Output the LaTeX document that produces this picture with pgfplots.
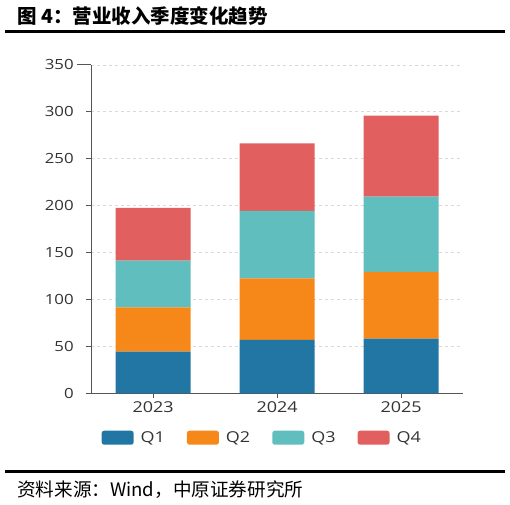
\documentclass[border=0pt]{standalone}
\usepackage{pgfplots}
\pgfplotsset{compat=1.18}
\usepackage{fontspec}
\setmainfont{Open Sans}[FakeStretch=1.2]
\newfontfamily\cjk{Noto Sans CJK SC}
\definecolor{c1}{HTML}{2276A3}
\definecolor{c2}{HTML}{F58818}
\definecolor{c3}{HTML}{60BEBF}
\definecolor{c4}{HTML}{E15F5F}
\definecolor{axgray}{HTML}{555555}
\definecolor{txtgray}{HTML}{333333}
\pgfplotsset{lg/.style={legend image code/.code={\fill[##1,rounded corners=2.5pt] (0pt,-7pt) rectangle (32pt,7pt);}}}
\begin{document}
\begin{tikzpicture}[x=1pt,y=1pt]
\useasboundingbox (0,0) rectangle (510,504);
\node[anchor=west, inner sep=0, font=\cjk\bfseries\fontsize{19.5}{21}\selectfont] at (17,488) {图 4：营业收入季度变化趋势};
\draw[line width=2.5pt, black] (5,472.3) -- (505,472.3);
\draw[line width=2.5pt, black] (5,32.3) -- (505,32.3);
\node[anchor=west, inner sep=0, font=\cjk\fontsize{18.6}{20}\selectfont] at (17,14) {资料来源：Wind，中原证券研究所};
\begin{axis}[
  at={(73.5,117.9)}, anchor=south west,
  scale only axis, width=372pt, height=328.4pt,
  xmin=-0.5, xmax=2.5, ymin=0, ymax=350,
  ybar stacked, bar width=75pt,
  xtick={0,1,2}, xticklabels={2023,2024,2025},
  ytick={0,50,...,350},
  axis x line*=bottom, axis y line*=left,
  x axis line style={-, draw=axgray, line width=1pt},
  y axis line style={-, draw=axgray, line width=1pt},
  tick align=outside, major tick length=5pt,
  xtick style={draw=axgray, line width=1pt},
  ytick style={draw=axgray, line width=1pt, shorten <=-9pt},
  ymajorgrids, grid style={dashed, gray!30, line width=0.8pt},
  /pgf/number format/assume math mode=true,
  yticklabel style={font=\fontsize{14}{16}\selectfont, text=txtgray, xshift=-9pt},
  xticklabel style={font=\fontsize{15}{17}\selectfont, text=txtgray},
  legend columns=4,
  legend style={at={(0.46,-0.135)}, anchor=center, draw=none, fill=none,
    font=\fontsize{15}{17}\selectfont, text=txtgray,
    /tikz/every odd column/.append style={column sep=5pt},
    /tikz/every even column/.append style={column sep=20pt}},
]
\addplot[fill=c1, draw=none, lg] coordinates {(0,44.4) (1,56.9) (2,58.3)};
\addplot[fill=c2, draw=none, lg] coordinates {(0,47.3) (1,65.7) (2,71.1)};
\addplot[fill=c3, draw=none, lg] coordinates {(0,49.8) (1,71.8) (2,80.3)};
\addplot[fill=c4, draw=none, lg] coordinates {(0,56.1) (1,72.1) (2,86.3)};
\legend{Q1,Q2,Q3,Q4}
\end{axis}
\end{tikzpicture}
\end{document}
